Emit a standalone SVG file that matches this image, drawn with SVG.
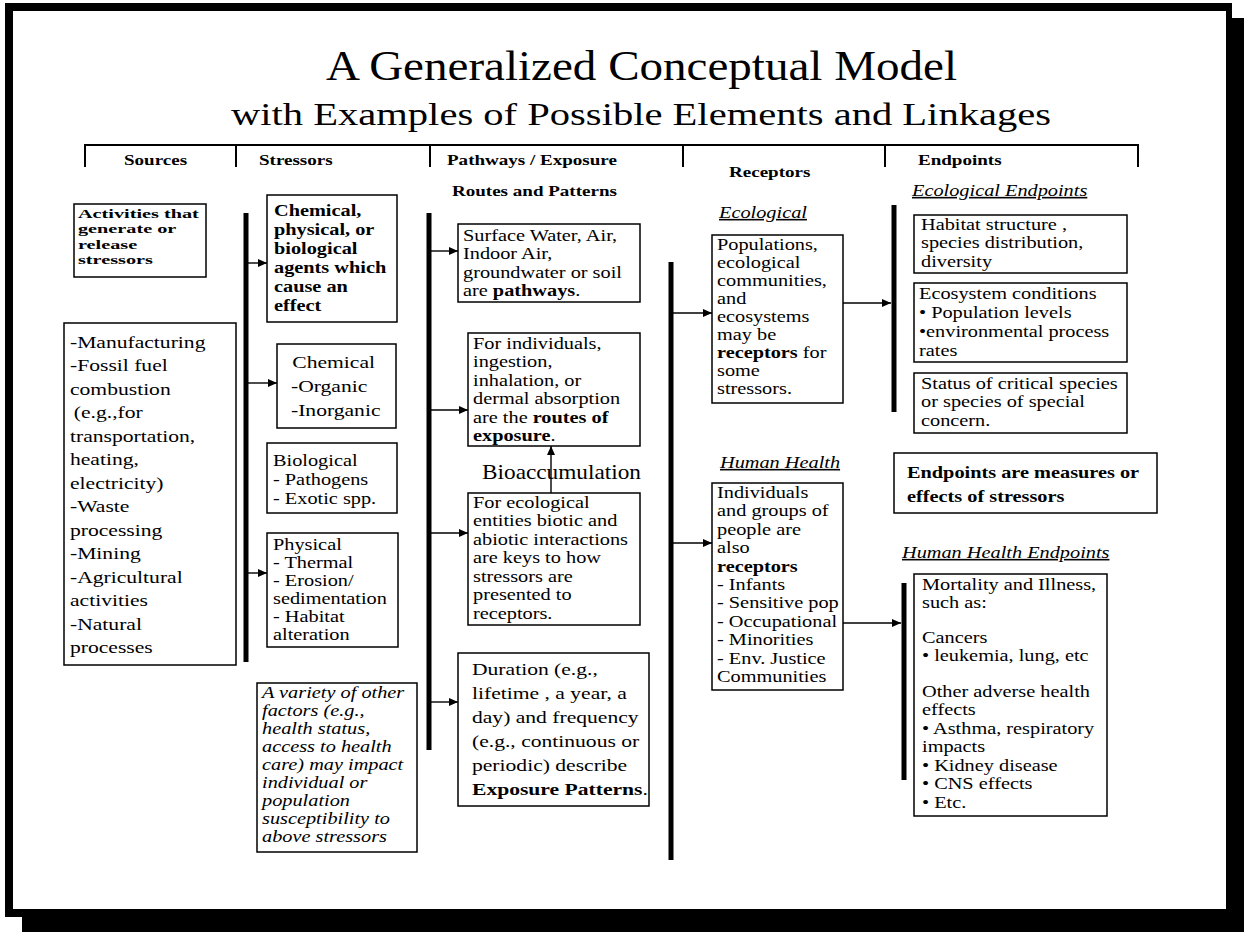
<svg xmlns="http://www.w3.org/2000/svg" width="1244" height="932" viewBox="0 0 1244 932">
<style>
.t{font-family:"Liberation Serif","Times New Roman",serif;font-size:16px;fill:#000}
.s17{font-size:17px}
.s14{font-size:13.5px}
.b{font-weight:bold}
.i{font-style:italic}
.u{text-decoration:underline}
.h{font-family:"Liberation Serif","Times New Roman",serif;font-size:15px;font-weight:bold;fill:#000}
.box{fill:#fff;stroke:#000;stroke-width:1.5}
.bar{stroke:#000;stroke-width:5;fill:none}
.rule{stroke:#000;stroke-width:2;fill:none}
.arr{stroke:#000;stroke-width:1.4;fill:none;marker-end:url(#ah)}
</style>
<defs>
<marker id="ah" markerUnits="userSpaceOnUse" markerWidth="9" markerHeight="8" refX="9" refY="4" orient="auto">
<path d="M0,0 L9,4 L0,8 z" fill="#000"/>
</marker>
</defs>
<g id="frame">
<rect x="22" y="18" width="1222" height="914" fill="#000"/>
<rect x="5" y="3" width="1227" height="914" fill="#000"/>
<rect x="13" y="11" width="1213" height="898" fill="#fff"/>
</g>
<g id="title">
<text class="t" x="326" y="80" style="font-size:42px" textLength="631" lengthAdjust="spacingAndGlyphs">A Generalized Conceptual Model</text>
<text class="t" x="231" y="125" style="font-size:31px" textLength="820" lengthAdjust="spacingAndGlyphs">with Examples of Possible Elements and Linkages</text>
</g>
<g id="header">
<path class="rule" d="M84,145 H1139 M85,145 V167 M236,145 V167 M430,145 V167 M683,145 V167 M885,145 V167 M1138,145 V167"/>
<text class="h" transform="translate(124 0) scale(1.27 1)"><tspan x="0" y="165">Sources</tspan></text>
<text class="h" transform="translate(259 0) scale(1.27 1)"><tspan x="0" y="165">Stressors</tspan></text>
<text class="h" transform="translate(447 0) scale(1.27 1)"><tspan x="0" y="165">Pathways / Exposure</tspan></text>
<text class="h" transform="translate(729 0) scale(1.27 1)"><tspan x="0" y="177">Receptors</tspan></text>
<text class="h" transform="translate(918 0) scale(1.27 1)"><tspan x="0" y="165">Endpoints</tspan></text>
<text class="h" transform="translate(452 0) scale(1.27 1)"><tspan x="0" y="196">Routes and Patterns</tspan></text>
<text class="t i u" transform="translate(912 0) scale(1.27 1)"><tspan x="0" y="196">Ecological Endpoints</tspan></text>
</g>
<g id="connectors">
<path class="bar" d="M246,213 V662"/>
<path class="bar" d="M429,213 V750"/>
<path class="bar" d="M671,262 V860"/>
<path class="bar" d="M894,205 V412"/>
<path class="bar" d="M904,583 V780"/>
<path class="arr" d="M248,263 H267"/>
<path class="arr" d="M248,383 H277"/>
<path class="arr" d="M248,573 H267"/>
<path class="arr" d="M431,251 H458"/>
<path class="arr" d="M431,410 H468"/>
<path class="arr" d="M431,533 H468"/>
<path class="arr" d="M431,702 H458"/>
<path class="arr" d="M551,493 V446"/>
<path class="arr" d="M673,313 H712"/>
<path class="arr" d="M673,543 H712"/>
<path class="arr" d="M843,303 H891"/>
<path class="arr" d="M843,623 H901"/>
</g>
<g id="activities">
<rect class="box" x="74" y="204" width="132" height="73"/>
<text class="t b s14" transform="translate(78 0) scale(1.5 1)"><tspan x="0" y="218">Activities that</tspan><tspan x="0" y="233.3">generate  or</tspan><tspan x="0" y="248.6">release</tspan><tspan x="0" y="264">stressors</tspan></text>
</g>
<g id="sources">
<rect class="box" x="64" y="323" width="172" height="342"/>
<text class="t s17" transform="translate(70 0) scale(1.27 1)"><tspan x="0" y="348">-Manufacturing</tspan><tspan x="0" y="371.5">-Fossil fuel</tspan><tspan x="0" y="395">combustion</tspan><tspan x="3" y="418.5">(e.g.,for</tspan><tspan x="0" y="442">transportation,</tspan><tspan x="0" y="465.5">heating,</tspan><tspan x="0" y="489">electricity)</tspan><tspan x="0" y="512.5">-Waste</tspan><tspan x="0" y="536">processing</tspan><tspan x="0" y="559.5">-Mining</tspan><tspan x="0" y="583">-Agricultural</tspan><tspan x="0" y="606.5">activities</tspan><tspan x="0" y="630">-Natural</tspan><tspan x="0" y="653.5">processes</tspan></text>
</g>
<g id="stressor-agents">
<rect class="box" x="267" y="195" width="130" height="127"/>
<text class="t b" transform="translate(274 0) scale(1.27 1)"><tspan x="0" y="216">Chemical,</tspan><tspan x="0" y="235">physical, or</tspan><tspan x="0" y="254">biological</tspan><tspan x="0" y="273">agents which</tspan><tspan x="0" y="292">cause an</tspan><tspan x="0" y="311">effect</tspan></text>
</g>
<g id="stressor-chemical">
<rect class="box" x="277" y="344" width="119" height="84"/>
<text class="t s17" transform="translate(291 0) scale(1.27 1)"><tspan x="1" y="368">Chemical</tspan><tspan x="0" y="392">-Organic</tspan><tspan x="0" y="416">-Inorganic</tspan></text>
</g>
<g id="stressor-biological">
<rect class="box" x="267" y="443" width="130" height="70"/>
<text class="t" transform="translate(273 0) scale(1.27 1)"><tspan x="0" y="466">Biological</tspan><tspan x="0" y="485">- Pathogens</tspan><tspan x="0" y="504">- Exotic spp.</tspan></text>
</g>
<g id="stressor-physical">
<rect class="box" x="267" y="533" width="131" height="114"/>
<text class="t" transform="translate(273 0) scale(1.27 1)"><tspan x="0" y="550">Physical</tspan><tspan x="0" y="568">- Thermal</tspan><tspan x="0" y="586">- Erosion/</tspan><tspan x="0" y="604">sedimentation</tspan><tspan x="0" y="622">- Habitat</tspan><tspan x="0" y="640">alteration</tspan></text>
</g>
<g id="other-factors">
<rect class="box" x="257" y="683" width="160" height="169"/>
<text class="t i" transform="translate(262 0) scale(1.27 1)"><tspan x="0" y="698">A variety of other</tspan><tspan x="0" y="716">factors  (e.g.,</tspan><tspan x="0" y="734">health status,</tspan><tspan x="0" y="752">access to health</tspan><tspan x="0" y="770">care)  may impact</tspan><tspan x="0" y="788">individual or</tspan><tspan x="0" y="806">population</tspan><tspan x="0" y="824">susceptibility to</tspan><tspan x="0" y="842">above stressors</tspan></text>
</g>
<g id="pathways">
<rect class="box" x="458" y="224" width="182" height="78"/>
<text class="t" transform="translate(463 0) scale(1.27 1)"><tspan x="0" y="241">Surface Water, Air,</tspan><tspan x="0" y="259.5">Indoor Air,</tspan><tspan x="0" y="278">groundwater or soil</tspan><tspan x="0" y="296.5">are <tspan class="b">pathways</tspan>.</tspan></text>
</g>
<g id="routes">
<rect class="box" x="468" y="333" width="172" height="113"/>
<text class="t" transform="translate(473 0) scale(1.27 1)"><tspan x="0" y="349">For individuals,</tspan><tspan x="0" y="367.5">ingestion,</tspan><tspan x="0" y="386">inhalation, or</tspan><tspan x="0" y="404.5">dermal absorption</tspan><tspan x="0" y="423">are the <tspan class="b">routes of</tspan></tspan><tspan x="0" y="441.5"><tspan class="b">exposure</tspan>.</tspan></text>
</g>
<g id="bioaccumulation">
<text class="t" x="482" y="479" style="font-size:22px" textLength="159" lengthAdjust="spacingAndGlyphs">Bioaccumulation</text>
</g>
<g id="interactions">
<rect class="box" x="468" y="493" width="172" height="132"/>
<text class="t" transform="translate(473 0) scale(1.27 1)"><tspan x="0" y="508">For ecological</tspan><tspan x="0" y="526.5">entities biotic and</tspan><tspan x="0" y="545">abiotic interactions</tspan><tspan x="0" y="563.5">are keys to how</tspan><tspan x="0" y="582">stressors are</tspan><tspan x="0" y="600.5">presented to</tspan><tspan x="0" y="619">receptors.</tspan></text>
</g>
<g id="patterns">
<rect class="box" x="458" y="653" width="191" height="153"/>
<text class="t s17" transform="translate(472 0) scale(1.27 1)"><tspan x="0" y="675">Duration (e.g.,</tspan><tspan x="0" y="699">lifetime , a year, a</tspan><tspan x="0" y="723">day) and frequency</tspan><tspan x="0" y="747">(e.g., continuous or</tspan><tspan x="0" y="771">periodic) describe</tspan><tspan x="0" y="795" class="b">Exposure Patterns<tspan font-weight="normal">.</tspan></tspan></text>
</g>
<g id="receptor-ecological">
<text class="t i u" transform="translate(719 0) scale(1.27 1)"><tspan x="0" y="218">Ecological</tspan></text>
<rect class="box" x="712" y="235" width="131" height="168"/>
<text class="t" transform="translate(717 0) scale(1.27 1)"><tspan x="0" y="250">Populations,</tspan><tspan x="0" y="268">ecological</tspan><tspan x="0" y="286">communities,</tspan><tspan x="0" y="304">and</tspan><tspan x="0" y="322">ecosystems</tspan><tspan x="0" y="340">may be</tspan><tspan x="0" y="358"><tspan class="b">receptors</tspan> for</tspan><tspan x="0" y="376">some</tspan><tspan x="0" y="394">stressors.</tspan></text>
</g>
<g id="receptor-human">
<text class="t i u" transform="translate(720 0) scale(1.27 1)"><tspan x="0" y="468">Human Health</tspan></text>
<rect class="box" x="712" y="483" width="131" height="207"/>
<text class="t" transform="translate(717 0) scale(1.27 1)"><tspan x="0" y="498">Individuals</tspan><tspan x="0" y="516.4">and groups of</tspan><tspan x="0" y="534.8">people are</tspan><tspan x="0" y="553.2">also</tspan><tspan x="0" y="571.6" class="b">receptors</tspan><tspan x="0" y="590">- Infants</tspan><tspan x="0" y="608.4">- Sensitive pop</tspan><tspan x="0" y="626.8">- Occupational</tspan><tspan x="0" y="645.2">- Minorities</tspan><tspan x="0" y="663.6">- Env. Justice</tspan><tspan x="0" y="682">Communities</tspan></text>
</g>
<g id="endpoint-habitat">
<rect class="box" x="914" y="215" width="213" height="58"/>
<text class="t" transform="translate(921 0) scale(1.27 1)"><tspan x="0" y="230">Habitat structure ,</tspan><tspan x="0" y="248.5">species distribution,</tspan><tspan x="0" y="267">diversity</tspan></text>
</g>
<g id="endpoint-ecosystem">
<rect class="box" x="914" y="283" width="213" height="79"/>
<text class="t" transform="translate(919 0) scale(1.27 1)"><tspan x="0" y="299">Ecosystem conditions</tspan><tspan x="0" y="318">•  Population levels</tspan><tspan x="0" y="337">•environmental process</tspan><tspan x="0" y="356">rates</tspan></text>
</g>
<g id="endpoint-status">
<rect class="box" x="914" y="373" width="213" height="60"/>
<text class="t" transform="translate(921 0) scale(1.27 1)"><tspan x="0" y="389">Status of critical species</tspan><tspan x="0" y="407.5">or species of special</tspan><tspan x="0" y="426">concern.</tspan></text>
</g>
<g id="endpoints-note">
<rect class="box" x="894" y="453" width="263" height="60"/>
<text class="t b" transform="translate(907 0) scale(1.27 1)"><tspan x="0" y="478">Endpoints  are measures or</tspan><tspan x="0" y="502">effects of stressors</tspan></text>
</g>
<g id="endpoint-human">
<text class="t i u" transform="translate(902 0) scale(1.27 1)"><tspan x="0" y="558">Human Health Endpoints</tspan></text>
<rect class="box" x="914" y="574" width="193" height="242"/>
<text class="t" transform="translate(922 0) scale(1.27 1)"><tspan x="0" y="590">Mortality and Illness,</tspan><tspan x="0" y="608">such as:</tspan><tspan x="0" y="643">Cancers</tspan><tspan x="0" y="661">•  leukemia, lung, etc</tspan><tspan x="0" y="697">Other adverse health</tspan><tspan x="0" y="715">effects</tspan><tspan x="0" y="734">• Asthma, respiratory</tspan><tspan x="0" y="752">impacts</tspan><tspan x="0" y="771">• Kidney disease</tspan><tspan x="0" y="789">• CNS effects</tspan><tspan x="0" y="808">• Etc.</tspan></text>
</g>
</svg>
